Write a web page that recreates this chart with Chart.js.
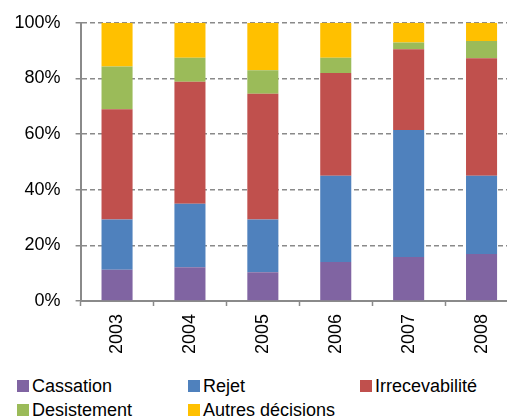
<!DOCTYPE html>
<html>
<head>
<meta charset="utf-8">
<script src="https://cdn.jsdelivr.net/npm/chart.js@4/dist/chart.umd.min.js"></script>
<style>
  html, body { margin: 0; padding: 0; overflow: hidden; background: #fff; width: 507px; height: 418px; }
  #wrap { position: absolute; left: 0; top: 0; width: 518px; height: 370px; }
  .lg { position: absolute; font-family: 'Liberation Sans', Arial, sans-serif; font-size: 18px; line-height: 18px; color: #000; white-space: nowrap; }
  .lg i { position: absolute; left: 0; top: 3px; width: 12px; height: 12px; }
  .lg span { position: absolute; left: 15px; top: 0; }
</style>
</head>
<body>
<div id="wrap"><canvas id="c" width="518" height="370"></canvas></div>
<div id="legend"></div>
<script>
// Répartition des décisions par année (en %)
const years = ['2003', '2004', '2005', '2006', '2007', '2008'];
const cassation      = [11.2, 12.1, 10.3, 14.0, 15.8, 16.9];
const rejet          = [18.1, 22.8, 19.0, 31.0, 45.6, 28.1];
const irrecevabilite = [39.6, 43.9, 45.2, 36.9, 29.1, 42.2];
const desistement    = [15.4,  8.6,  8.4,  5.5,  2.4,  6.2];
const autres         = [15.7, 12.6, 17.1, 12.6,  7.1,  6.6];
const yTicks = [0, 20, 40, 60, 80, 100];

const series = [
  { label: 'Cassation', data: cassation, color: '#8064A2' },
  { label: 'Rejet', data: rejet, color: '#4F81BD' },
  { label: 'Irrecevabilité', data: irrecevabilite, color: '#C0504D' },
  { label: 'Desistement', data: desistement, color: '#9BBB59' },
  { label: 'Autres décisions', data: autres, color: '#FFC000' }
];

Chart.defaults.font.family = "'Liberation Sans', Arial, sans-serif";
Chart.defaults.font.size = 18;
Chart.defaults.color = '#000';

const axisGray = '#8a8a8a';

new Chart(document.getElementById('c'), {
  type: 'bar',
  data: {
    labels: years,
    datasets: series.map(s => ({
      label: s.label,
      data: s.data,
      backgroundColor: s.color,
      borderWidth: 0,
      barPercentage: 0.426,
      categoryPercentage: 1
    }))
  },
  options: {
    responsive: false,
    devicePixelRatio: 1,
    animation: false,
    layout: { padding: { top: 22.7, left: 0, right: 0, bottom: 0 } },
    plugins: { legend: { display: false }, tooltip: { enabled: false } },
    scales: {
      x: {
        stacked: true,
        grid: { display: true, drawOnChartArea: false, offset: true, tickLength: 5, tickColor: axisGray, tickWidth: 1.5 },
        border: { display: true, color: axisGray, width: 2 },
        ticks: { autoSkip: false, minRotation: 90, maxRotation: 90, padding: 8, color: '#000' },
        afterFit(scale) { scale.height = 69; scale.paddingLeft = 0; scale.paddingRight = 0; }
      },
      y: {
        stacked: true,
        min: 0,
        max: 100,
        afterBuildTicks(scale) { scale.ticks = yTicks.map(v => ({ value: v })); },
        grid: { color: axisGray, lineWidth: 1.5, tickLength: 5, tickColor: axisGray, tickWidth: 1.5 },
        border: { display: true, color: axisGray, width: 2, dash: [5, 3] },
        ticks: { padding: 15, color: '#000', callback: v => v + '%' },
        afterFit(scale) { scale.width = 80.6; scale.paddingTop = 0; scale.paddingBottom = 0; }
      }
    }
  }
});

// Légende sur deux lignes, en colonnes fixes
const legendPos = [[17, 377], [188, 377], [360, 377], [17, 401], [188, 401]];
const legend = document.getElementById('legend');
series.forEach((s, i) => {
  const d = document.createElement('div');
  d.className = 'lg';
  d.style.left = legendPos[i][0] + 'px';
  d.style.top = legendPos[i][1] + 'px';
  d.innerHTML = '<i style="background:' + s.color + '"></i><span></span>';
  d.querySelector('span').textContent = s.label;
  legend.appendChild(d);
});
</script>
</body>
</html>
